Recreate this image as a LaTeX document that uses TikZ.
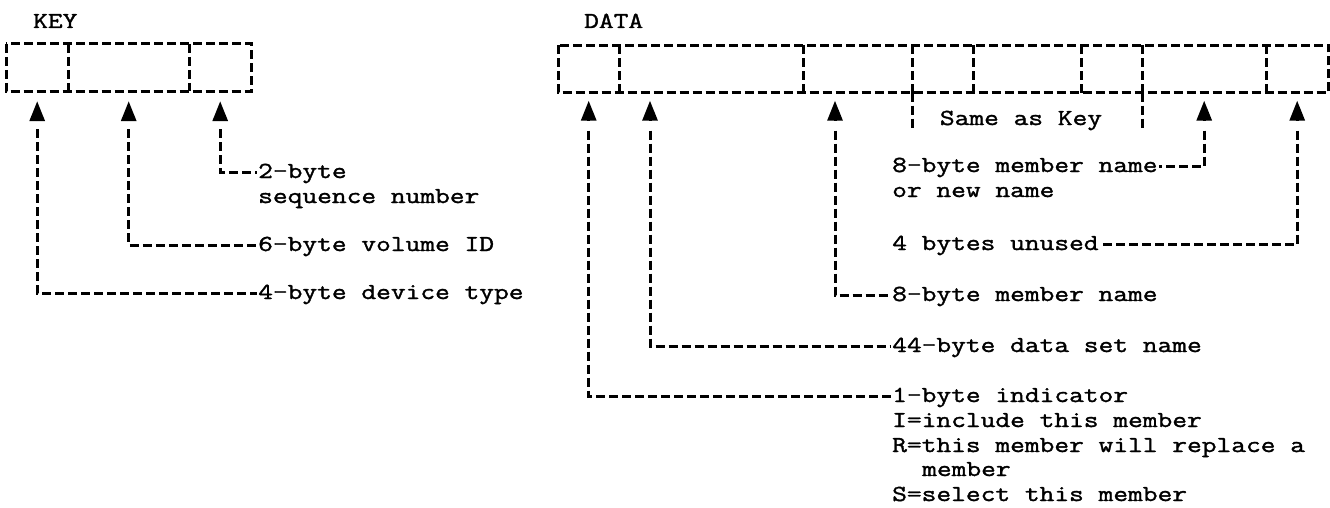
\documentclass[tikz,border=0pt]{standalone}
\usepackage{fontspec}
\setmonofont{Latin Modern Mono}[FakeStretch=1.25,FakeBold=1.5]
\usetikzlibrary{arrows.meta}
\tikzset{
  cell/.style={anchor=west,inner sep=0pt,minimum height=47pt},
  frame/.style={line width=3pt,dash pattern=on 9pt off 4pt},
  link/.style={line width=3pt,dash pattern=on 9pt off 4pt,shorten <=38pt},
  head/.style={line width=3pt,-{Triangle[length=20pt,width=15pt]}},
  lbl/.style={anchor=west,inner sep=1pt,text height=16pt,text depth=4pt},
}

\begin{document}
\begin{tikzpicture}[x=1pt,y=-1pt,font=\ttfamily\fontsize{22.9}{25}\selectfont]
        \useasboundingbox (0,0) rectangle (1330,508);
        \node (k1) at (6,67.5) [cell,minimum width=62pt] {};
        \node (k2) at (68,67.5) [cell,minimum width=121pt] {};
        \node (k3) at (189,67.5) [cell,minimum width=62pt] {};
        \draw [frame] (k1.north west) rectangle (k3.south east);
        \draw [frame] (k2.north west) -- (k2.south west) (k3.north west) -- (k3.south west);
        \node (kname) at (32,22) [lbl] {KEY};
        \node (kseq) at (257,172) [lbl] {2-byte};
        \node (kseq2) at (257,197) [lbl] {sequence number};
        \node (kvol) at (257,245) [lbl] {6-byte volume ID};
        \node (kdev) at (257,293) [lbl] {4-byte device type};
        \draw [link] (k3.south) |- (kseq.west);
        \draw [link] (k2.south) |- (kvol.west);
        \draw [link] (k1.south) |- (kdev.west);
        \draw [head] (k3.south) ++(0,30) -- ++(0,-20);
        \draw [head] (k2.south) ++(0,30) -- ++(0,-20);
        \draw [head] (k1.south) ++(0,30) -- ++(0,-20);
        \node (d1) at (558,69) [cell,minimum width=61pt] {};
        \node (d2) at (619,69) [cell,minimum width=184pt] {};
        \node (d3) at (803,69) [cell,minimum width=109pt] {};
        \node (d4) at (912,69) [cell,minimum width=61pt] {};
        \node (d5) at (973,69) [cell,minimum width=108pt] {};
        \node (d6) at (1081,69) [cell,minimum width=61pt] {};
        \node (d7) at (1142,69) [cell,minimum width=124pt] {};
        \node (d8) at (1266,69) [cell,minimum width=62pt] {};
        \draw [frame] (d1.north west) rectangle (d8.south east);
        \draw [frame] (d2.north west) -- (d2.south west) (d3.north west) -- (d3.south west)
          (d4.north west) -- (d4.south west) (d5.north west) -- (d5.south west)
          (d6.north west) -- (d6.south west) (d7.north west) -- (d7.south west)
          (d8.north west) -- (d8.south west);
        \draw [frame] (d4.south west) -- ++(0,37) (d6.south east) -- ++(0,37);
        \coordinate (d2p) at ([xshift=31pt]d2.south west);
        \coordinate (d3p) at ([xshift=32pt]d3.south west);
        \node (dname) at (583,22) [lbl] {DATA};
        \node (dsame) at (1021,119) [lbl,anchor=center] {Same as Key};
        \node (dnew) at (891,166) [lbl] {8-byte member name};
        \node (dnew2) at (891,191) [lbl] {or new name};
        \node (dunu) at (891,244) [lbl] {4 bytes unused};
        \node (dmem) at (891,295) [lbl] {8-byte member name};
        \node (ddsn) at (891,346) [lbl] {44-byte data set name};
        \node (dind) at (891,396) [lbl] {1-byte indicator};
        \node (dind2) at (891,421) [lbl] {I=include this member};
        \node (dind3) at (891,446) [lbl] {R=this member will replace a};
        \node (dind4) at (921,470) [lbl] {member};
        \node (dind5) at (891,495) [lbl] {S=select this member};
        \draw [link] (d7.south) |- (dnew.east);
        \draw [link] (d8.south) |- (dunu.east);
        \draw [link] (d3p) |- (dmem.west);
        \draw [link] (d2p) |- (ddsn.west);
        \draw [link] (d1.south) |- (dind.west);
        \draw [head] (d7.south) ++(0,28) -- ++(0,-20);
        \draw [head] (d8.south) ++(0,28) -- ++(0,-20);
        \draw [head] (d3p) ++(0,28) -- ++(0,-20);
        \draw [head] (d2p) ++(0,28) -- ++(0,-20);
        \draw [head] (d1.south) ++(0,28) -- ++(0,-20);
      \end{tikzpicture}
\end{document}
